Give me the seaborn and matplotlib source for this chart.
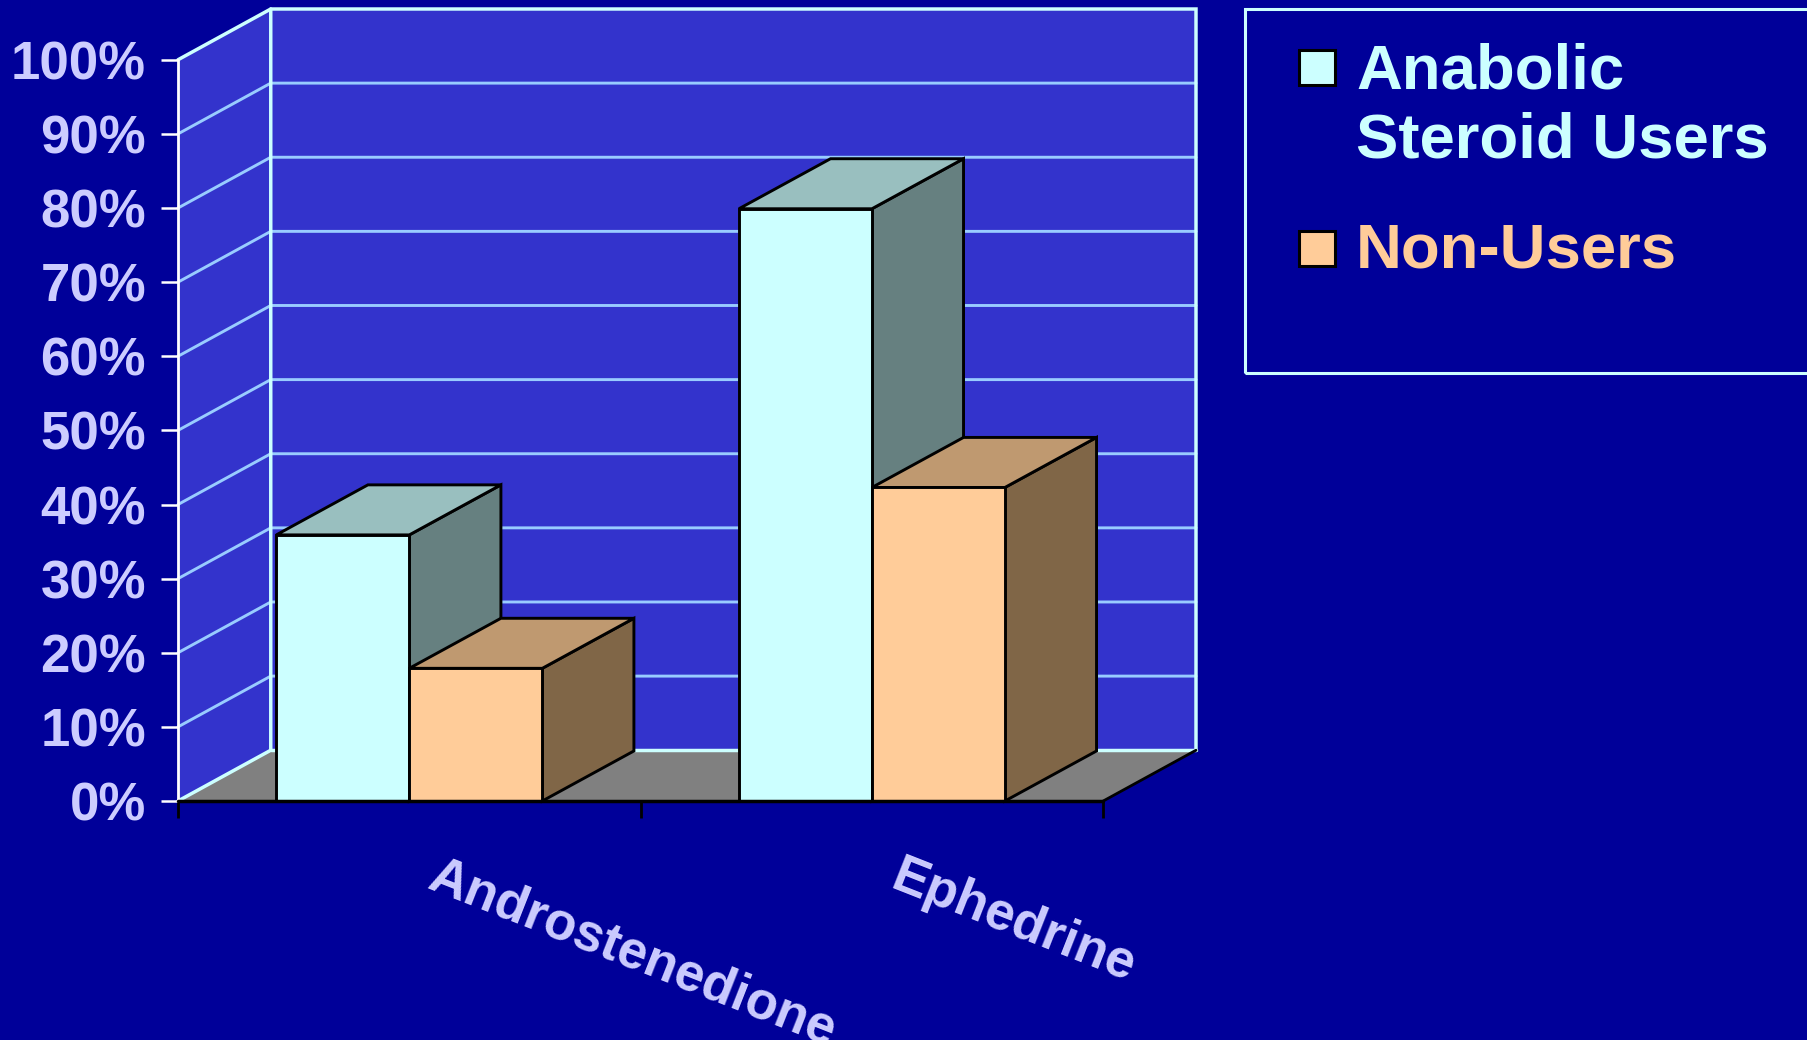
import matplotlib
matplotlib.use("Agg")
import matplotlib.pyplot as plt
from matplotlib.patches import Polygon, Rectangle
from matplotlib.transforms import ScaledTranslation
import pandas as pd
import seaborn as sns

# Survey values (percent of respondents)
drugs = ["Androstenedione", "Ephedrine"]
groups = ["Anabolic\nSteroid Users", "Non-Users"]
steroid_users = [35.9, 79.9]
non_users = [17.9, 42.3]
y_ticks = [0, 10, 20, 30, 40, 50, 60, 70, 80, 90, 100]
y_tick_labels = [f"{v}%" for v in y_ticks]

BG = "#000099"
WALL = "#3333CC"
FLOOR = "#808080"
GRID = "#99CCFF"
EDGE = "#CCFFFF"
LABEL = "#CCCCFF"
FRONT = ["#CCFFFF", "#FFCC99"]
SIDE = ["#668080", "#806647"]
TOP = ["#99BFBF", "#BF9970"]

W, H = 1807, 1040
PX_PT = 72 / 100  # points per pixel at 100 dpi

sns.set_theme(style="white")
plt.rcParams["font.family"] = ["Liberation Sans", "DejaVu Sans"]
plt.rcParams["font.weight"] = "bold"

df = pd.DataFrame({
    "drug": drugs * 2,
    "group": [groups[0]] * 2 + [groups[1]] * 2,
    "pct": steroid_users + non_users,
})

fig = plt.figure(figsize=(W / 100, H / 100), dpi=100, facecolor=BG)
ax = fig.add_axes([178 / W, 1 - 801 / H, (1196 - 178) / W, (801 - 9) / H])
ax.patch.set_visible(False)

sns.barplot(
    data=df, x="drug", y="pct", hue="group", order=drugs, hue_order=groups,
    palette=FRONT, saturation=1, width=0.575, gap=0, edgecolor="black",
    linewidth=2.1, legend=False, ax=ax,
)

# Depth of the box and of the bars, in data units
X0, X1 = -0.5, 1.5
WALL_DX, WALL_DY = 0.2005, 6.85
BAR_DX, BAR_DY = 0.198, 6.75
ax.set_xlim(X0, X1 + WALL_DX)
ax.set_ylim(0, 100 + WALL_DY)

# Back wall, side wall and floor
ax.add_patch(Polygon([(X0 + WALL_DX, WALL_DY), (X1 + WALL_DX, WALL_DY),
                      (X1 + WALL_DX, 100 + WALL_DY), (X0 + WALL_DX, 100 + WALL_DY)],
                     fc=WALL, ec="none", zorder=0.1, clip_on=False))
ax.add_patch(Polygon([(X0, 0), (X0 + WALL_DX, WALL_DY), (X0 + WALL_DX, 100 + WALL_DY), (X0, 100)],
                     fc=WALL, ec="none", zorder=0.1, clip_on=False))
ax.add_patch(Polygon([(X0, 0), (X1, 0), (X1 + WALL_DX, WALL_DY), (X0 + WALL_DX, WALL_DY)],
                     fc=FLOOR, ec="none", zorder=0.15, clip_on=False))

# Gridlines run along the side wall and across the back wall
for v in y_ticks[1:-1]:
    ax.plot([X0, X0 + WALL_DX, X1 + WALL_DX], [v, v + WALL_DY, v + WALL_DY],
            color=GRID, lw=2.1, zorder=0.2, clip_on=False, solid_joinstyle="miter")

# Box outline
ax.plot([X0, X0 + WALL_DX, X1 + WALL_DX, X1 + WALL_DX],
        [100, 100 + WALL_DY, 100 + WALL_DY, WALL_DY],
        color=EDGE, lw=2.5, zorder=0.3, clip_on=False, solid_joinstyle="miter")
ax.plot([X0, X0 + WALL_DX, X0 + WALL_DX], [0, WALL_DY, 100 + WALL_DY],
        color=EDGE, lw=2.5, zorder=0.3, clip_on=False)
ax.plot([X0 + WALL_DX, X1 + WALL_DX], [WALL_DY, WALL_DY],
        color=EDGE, lw=2.5, zorder=0.3, clip_on=False)
ax.plot([X1, X1 + WALL_DX], [0, WALL_DY], color="black", lw=2.0, zorder=0.35, clip_on=False)
ax.plot([X0, X0], [0, 100], color="white", lw=2.0, zorder=0.4, clip_on=False)

# Extrude every bar: side and top faces are taken from the bar rectangles
for s, container in enumerate(ax.containers):
    base_z = 2 + s
    for bar in container:
        x, w, h = bar.get_x(), bar.get_width(), bar.get_height()
        bar.set_zorder(base_z + 0.5)
        ax.add_patch(Polygon([(x + w, 0), (x + w + BAR_DX, BAR_DY),
                              (x + w + BAR_DX, h + BAR_DY), (x + w, h)],
                             fc=SIDE[s], ec="black", lw=2.1, zorder=base_z,
                             clip_on=False, joinstyle="miter"))
        ax.add_patch(Polygon([(x, h), (x + w, h), (x + w + BAR_DX, h + BAR_DY), (x + BAR_DX, h + BAR_DY)],
                             fc=TOP[s], ec="black", lw=2.1, zorder=base_z,
                             clip_on=False, joinstyle="miter"))

# Front edge of the floor
ax.plot([X0, X1], [0, 0], color="black", lw=2.5, zorder=6, clip_on=False)

for spine in ax.spines.values():
    spine.set_visible(False)
ax.set_xlabel("")
ax.set_ylabel("")

ax.set_yticks(y_ticks, y_tick_labels)
ax.tick_params(axis="y", length=17 * PX_PT, width=1.8, color="white", pad=15 * PX_PT,
               labelsize=38, labelcolor=LABEL, left=True)
ax.set_xticks([X0, 0.5, X1], minor=True)
ax.set_xticks([0, 1], drugs)
ax.tick_params(axis="x", which="minor", length=17 * PX_PT, width=2.0, color="black", bottom=True)
ax.tick_params(axis="x", which="major", length=0, pad=87 * PX_PT, labelsize=38, labelcolor=LABEL)
for lab in ax.get_xticklabels():
    lab.set(rotation=-21.5, ha="left", va="baseline", rotation_mode="anchor", fontweight="bold")
    lab.set_transform(lab.get_transform() + ScaledTranslation(17 / 100, 0, fig.dpi_scale_trans))
for lab in ax.get_yticklabels():
    lab.set_fontweight("bold")

# Key box runs off the right edge of the figure
def fx(px):
    return px / W

def fy(px):
    return 1 - px / H

fig.add_artist(Rectangle((fx(1245), fy(373)), fx(700), 364 / H, transform=fig.transFigure,
                         fc="none", ec=EDGE, lw=2.2))
key_tops = [50, 231]
key_baselines = [157, 268]
for colour, label, top, base in zip(FRONT, groups, key_tops, key_baselines):
    fig.add_artist(Rectangle((fx(1299), fy(top + 35)), 36 / W, 35 / H, transform=fig.transFigure,
                             fc=colour, ec="black", lw=2.2))
    fig.text(fx(1356), fy(base), label, color=colour, fontsize=45.7, fontweight="bold",
             ha="left", va="baseline", linespacing=1.2)

fig.savefig("out.png", dpi=100, facecolor=BG)
